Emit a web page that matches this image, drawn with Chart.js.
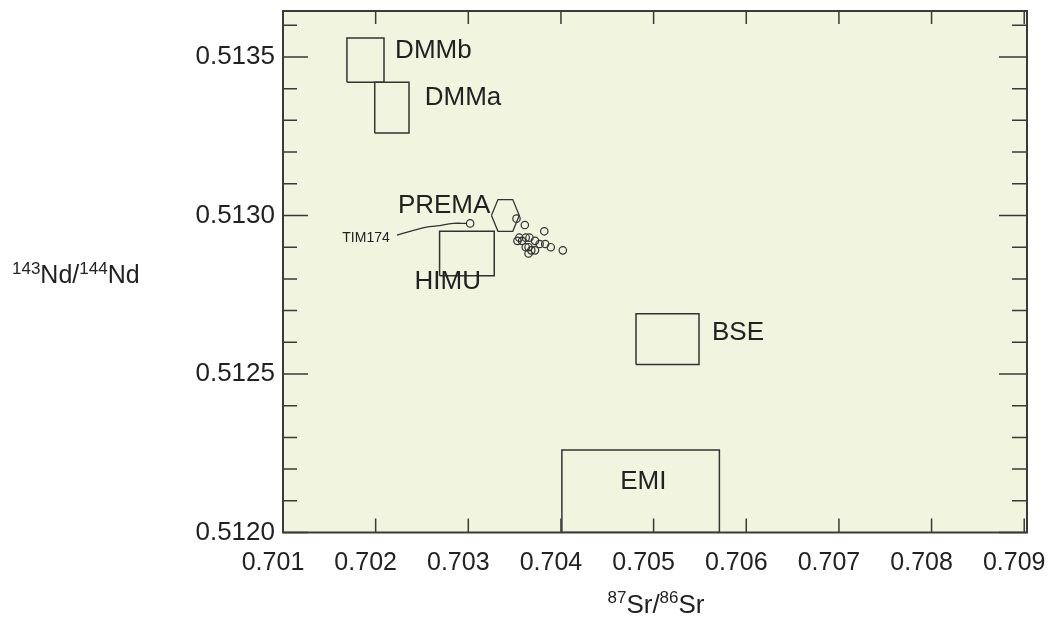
<!DOCTYPE html>
<html>
<head>
<meta charset="utf-8">
<script src="https://cdn.jsdelivr.net/npm/chart.js@4.4.0/dist/chart.umd.min.js"></script>
<style>
  html, body { margin: 0; padding: 0; background: #fff; }
  canvas { display: block; }
</style>
</head>
<body>
<canvas id="srNdChart" width="1052" height="618"></canvas>
<script>
// Diagramme 87Sr/86Sr - 143Nd/144Nd avec les réservoirs mantelliques

// Graduations des axes
const xTicks = [0.701, 0.702, 0.703, 0.704, 0.705, 0.706, 0.707, 0.708, 0.709];
const yTicks = [0.5120, 0.5125, 0.5130, 0.5135];
const yMinorTicks = [0.5121, 0.5122, 0.5123, 0.5124, 0.5126, 0.5127, 0.5128, 0.5129,
                     0.5131, 0.5132, 0.5133, 0.5134, 0.5136];

// Réservoirs (rectangles)
const boxNames = ['DMMb', 'DMMa', 'HIMU', 'BSE', 'EMI'];
const boxSrMin = [0.70169, 0.70199, 0.70269, 0.70481, 0.70401];
const boxSrMax = [0.70209, 0.70236, 0.70328, 0.70549, 0.70571];
const boxNdMin = [0.51342, 0.51326, 0.51281, 0.51253, 0.51200];
const boxNdMax = [0.51356, 0.51342, 0.51295, 0.51269, 0.51226];

// PREMA (hexagone)
const premaSr = [0.70325, 0.70332, 0.70348, 0.70355, 0.70348, 0.70332, 0.70325];
const premaNd = [0.51300, 0.51305, 0.51305, 0.51300, 0.51295, 0.51295, 0.51300];

// Échantillons
const sampleSr = [0.70352, 0.70361, 0.70382, 0.70355, 0.70362, 0.70366, 0.70353, 0.70358, 0.70372,
                  0.70377, 0.70383, 0.70389, 0.70402, 0.70365, 0.70368, 0.70365, 0.70362, 0.70372];
const sampleNd = [0.51299, 0.51297, 0.51295, 0.51293, 0.51293, 0.51293, 0.51292, 0.51292, 0.51292,
                  0.51291, 0.51291, 0.51290, 0.51289, 0.51290, 0.51289, 0.51288, 0.51290, 0.51289];

// TIM174 et son trait de rappel
const timSr = [0.70302];
const timNd = [0.512975];
const leaderSr = [0.70223, 0.70240, 0.70255, 0.70266, 0.70284, 0.70298];
const leaderNd = [0.512938, 0.512952, 0.512963, 0.512967, 0.512975, 0.512975];

// Étiquettes
const labelText = ['DMMb', 'DMMa', 'PREMA', 'HIMU', 'BSE', 'EMI', 'TIM174'];
const labelSr = [0.70221, 0.70253, 0.70224, 0.70242, 0.70563, 0.70464, 0.70164];
const labelNd = [0.51352, 0.51337, 0.51303, 0.51279, 0.51263, 0.51216, 0.51293];

const FONT = '"Liberation Sans", Arial, sans-serif';
const INK = '#333333';
const TEXT = '#222222';

function toPoints(xs, ys) {
    return xs.map((v, i) => ({ x: v, y: ys[i] }));
}

const datasets = [];

boxNames.forEach((name, i) => {
    const x0 = boxSrMin[i], x1 = boxSrMax[i], y0 = boxNdMin[i], y1 = boxNdMax[i];
    datasets.push({
        label: name,
        data: [{x: x0, y: y0}, {x: x1, y: y0}, {x: x1, y: y1}, {x: x0, y: y1}, {x: x0, y: y0}],
        showLine: true,
        borderColor: INK,
        borderWidth: 1.5,
        pointRadius: 0,
        fill: false
    });
});

datasets.push({
    label: 'PREMA',
    data: toPoints(premaSr, premaNd),
    showLine: true,
    borderColor: INK,
    borderWidth: 1.3,
    pointRadius: 0
});

datasets.push({
    label: 'leader',
    data: toPoints(leaderSr, leaderNd),
    showLine: true,
    borderColor: INK,
    borderWidth: 1.3,
    tension: 0.4,
    pointRadius: 0
});

datasets.push({
    label: 'TIM174',
    data: toPoints(timSr, timNd),
    pointStyle: 'circle',
    pointRadius: 3.7,
    borderColor: INK,
    borderWidth: 1.2,
    backgroundColor: 'rgba(0,0,0,0)'
});

datasets.push({
    label: 'Echantillons',
    data: toPoints(sampleSr, sampleNd),
    pointStyle: 'circle',
    pointRadius: 3.7,
    borderColor: INK,
    borderWidth: 1.2,
    backgroundColor: 'rgba(0,0,0,0)'
});

// Texte avec exposants : parts = [[texte, exposant?], ...]
function drawRich(ctx, parts, x, y, mainSize, supSize, raise) {
    let cx = x;
    ctx.textBaseline = 'alphabetic';
    ctx.textAlign = 'left';
    parts.forEach(([t, sup]) => {
        ctx.font = (sup ? supSize : mainSize) + 'px ' + FONT;
        ctx.fillText(t, cx, sup ? y - raise : y);
        cx += ctx.measureText(t).width;
    });
    return cx - x;
}

function richWidth(ctx, parts, mainSize, supSize) {
    let w = 0;
    parts.forEach(([t, sup]) => {
        ctx.font = (sup ? supSize : mainSize) + 'px ' + FONT;
        w += ctx.measureText(t).width;
    });
    return w;
}

const decorPlugin = {
    id: 'decor',
    beforeDraw(chart) {
        const { ctx, chartArea: a } = chart;
        ctx.save();
        ctx.fillStyle = '#f1f4df';
        ctx.fillRect(a.left, a.top, a.right - a.left, a.bottom - a.top);
        ctx.restore();
    },
    afterDraw(chart) {
        const { ctx, chartArea: a, scales: { x, y } } = chart;
        ctx.save();

        // graduations vers l'intérieur
        ctx.strokeStyle = '#3a3a3a';
        ctx.lineWidth = 1.5;
        ctx.beginPath();
        xTicks.forEach(v => {
            const px = x.getPixelForValue(v);
            ctx.moveTo(px, a.bottom); ctx.lineTo(px, a.bottom - 14);
            ctx.moveTo(px, a.top); ctx.lineTo(px, a.top + 13);
        });
        yTicks.forEach(v => {
            const py = y.getPixelForValue(v);
            ctx.moveTo(a.left, py); ctx.lineTo(a.left + 25, py);
            ctx.moveTo(a.right, py); ctx.lineTo(a.right - 28, py);
        });
        yMinorTicks.forEach(v => {
            const py = y.getPixelForValue(v);
            if (py < a.top) return;
            ctx.moveTo(a.left, py); ctx.lineTo(a.left + 14, py);
            ctx.moveTo(a.right, py); ctx.lineTo(a.right - 15, py);
        });
        ctx.stroke();

        // cadre
        ctx.lineWidth = 2;
        ctx.strokeStyle = '#3a3a3a';
        ctx.strokeRect(a.left, a.top, a.right - a.left, a.bottom - a.top);

        // étiquettes des réservoirs
        ctx.fillStyle = TEXT;
        ctx.textAlign = 'left';
        ctx.textBaseline = 'middle';
        labelText.forEach((t, i) => {
            ctx.font = (t === 'TIM174' ? '14px ' : '26px ') + FONT;
            ctx.fillText(t, x.getPixelForValue(labelSr[i]), y.getPixelForValue(labelNd[i]));
        });

        // titres des axes
        const xTitle = [['87', true], ['Sr/', false], ['86', true], ['Sr', false]];
        const w = richWidth(ctx, xTitle, 26, 17);
        drawRich(ctx, xTitle, (a.left + a.right) / 2 - w / 2 + 1, 613, 26, 17, 10);

        const yTitle = [['143', true], ['Nd/', false], ['144', true], ['Nd', false]];
        drawRich(ctx, yTitle, 12, 283, 25, 17, 9);

        ctx.restore();
    }
};

const ctx = document.getElementById('srNdChart').getContext('2d');
new Chart(ctx, {
    type: 'scatter',
    data: { datasets: datasets },
    options: {
        responsive: false,
        animation: false,
        layout: { padding: { top: 11, right: 25, left: 0, bottom: 0 } },
        scales: {
            x: {
                type: 'linear',
                min: 0.701,
                max: 0.70903,
                afterBuildTicks: s => { s.ticks = xTicks.map(v => ({ value: v })); },
                afterFit: s => { s.height = 85.5; s.paddingLeft = 0; s.paddingRight = 0; },
                grid: { display: false },
                border: { display: false },
                ticks: {
                    callback: v => v.toFixed(3),
                    font: { size: 25, family: FONT },
                    color: TEXT,
                    padding: 8,
                    labelOffset: -10,
                    maxRotation: 0,
                    autoSkip: false
                }
            },
            y: {
                type: 'linear',
                min: 0.512,
                max: 0.513645,
                afterBuildTicks: s => { s.ticks = yTicks.map(v => ({ value: v })); },
                afterFit: s => { s.width = 283; s.paddingTop = 0; s.paddingBottom = 0; },
                grid: { display: false },
                border: { display: false },
                ticks: {
                    callback: v => v.toFixed(4),
                    font: { size: 26, family: FONT },
                    color: TEXT,
                    padding: 0,
                    autoSkip: false
                }
            }
        },
        plugins: {
            legend: { display: false },
            tooltip: { enabled: false }
        }
    },
    plugins: [decorPlugin]
});
</script>
</body>
</html>
